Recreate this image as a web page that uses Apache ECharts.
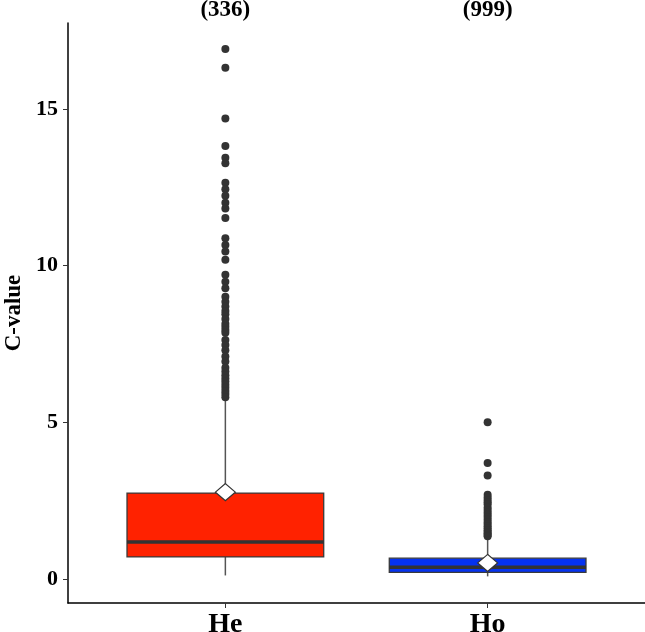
<!DOCTYPE html>
<html><head><meta charset="utf-8">
<script src="https://cdn.jsdelivr.net/npm/echarts@6/dist/echarts.min.js"></script>
<style>html,body{margin:0;padding:0;background:#fff}#c{width:645px;height:632px}</style>
</head><body><div id="c"></div>
<script>
// ---- data ----
const categories = ['He', 'Ho'];
const counts = ['(336)', '(999)'];
const catPositions = [1, 2];
// [lower whisker, Q1, median, Q3, upper whisker]
const heBox = [0.11, 0.70, 1.18, 2.74, 5.72];
const hoBox = [0.08, 0.21, 0.37, 0.66, 1.31];
const means = [2.77, 0.51];
const heOutliers = [16.92, 16.32, 14.70, 13.82, 13.45, 13.27, 12.65, 12.44, 12.23, 12.01, 11.83, 11.52,
  10.88, 10.66, 10.45, 10.19, 9.71, 9.49, 9.28, 9.01, 8.85, 8.70, 8.55, 8.45, 8.30, 8.15, 8.05, 7.95,
  7.86, 7.63, 7.47, 7.30, 7.10, 6.94, 6.74, 6.62, 6.50, 6.40, 6.30, 6.20, 6.10, 6.00, 5.90, 5.80];
const hoOutliers = [5.00, 3.70, 3.30, 2.69, 2.60, 2.52, 2.45, 2.38, 2.28, 2.20, 2.12, 2.05, 1.98, 1.90,
  1.82, 1.75, 1.68, 1.62, 1.55, 1.50, 1.45, 1.40, 1.36];
const yTicks = [0, 5, 10, 15];

// ---- styles ----
const boxColors = ['#ff2200', '#0532f0'];
const FONT = 'Liberation Serif';

const boxData = [[catPositions[0], ...heBox], [catPositions[1], ...hoBox]];
const outlierData = heOutliers.map(v => [catPositions[0], v]).concat(hoOutliers.map(v => [catPositions[1], v]));
const meanData = means.map((v, i) => [catPositions[i], v]);

const chart = echarts.init(document.getElementById('c'), null, {renderer: 'canvas'});
const axisText = {fontFamily: FONT, fontWeight: 'bold', color: '#000'};
chart.setOption({
  backgroundColor: '#fff',
  animation: false,
  grid: {left: 68, right: 0, top: 23, bottom: 29, containLabel: false, outerBoundsMode: 'none'},
  xAxis: [{
    type: 'value', min: 0.4, max: 2.6,
    axisLine: {show: true, onZero: false, lineStyle: {color: '#000', width: 1.5}},
    axisTick: {show: true, customValues: catPositions, length: 5, lineStyle: {color: '#333', width: 1}},
    axisLabel: {show: true, customValues: catPositions, margin: 8, fontSize: 28, ...axisText,
      formatter: v => categories[catPositions.indexOf(v)] || ''},
    splitLine: {show: false}
  }, {
    type: 'value', min: 0.4, max: 2.6, position: 'top',
    axisLine: {show: false}, axisTick: {show: false},
    axisLabel: {show: true, customValues: catPositions, margin: 1, fontSize: 23, ...axisText,
      formatter: v => counts[catPositions.indexOf(v)] || ''},
    splitLine: {show: false}
  }],
  yAxis: {
    type: 'value', min: -0.77, max: 17.75,
    name: 'C-value', nameLocation: 'middle', nameGap: 40,
    nameTextStyle: {fontSize: 23, ...axisText},
    axisLine: {show: true, onZero: false, lineStyle: {color: '#000', width: 1.5}},
    axisTick: {show: true, customValues: yTicks, length: 5, lineStyle: {color: '#333', width: 1}},
    axisLabel: {show: true, customValues: yTicks, margin: 10, fontSize: 22, ...axisText},
    splitLine: {show: false}
  },
  series: [{
    type: 'custom',
    data: boxData,
    z: 2,
    renderItem: function (params, api) {
      const x = api.value(0);
      const pLow = api.coord([x, api.value(1)]);
      const pQ1 = api.coord([x, api.value(2)]);
      const pMed = api.coord([x, api.value(3)]);
      const pQ3 = api.coord([x, api.value(4)]);
      const pHigh = api.coord([x, api.value(5)]);
      const half = api.size([0.75, 0])[0] / 2;
      const cx = pQ1[0];
      const whisker = {stroke: '#555', lineWidth: 1.5};
      return {
        type: 'group',
        children: [
          {type: 'line', shape: {x1: cx, y1: pLow[1], x2: cx, y2: pQ1[1]}, style: whisker},
          {type: 'line', shape: {x1: cx, y1: pQ3[1], x2: cx, y2: pHigh[1]}, style: whisker},
          {type: 'rect', shape: {x: cx - half, y: pQ3[1], width: half * 2, height: pQ1[1] - pQ3[1]},
            style: {fill: boxColors[params.dataIndex], stroke: '#3a3a3a', lineWidth: 1.3}},
          {type: 'line', shape: {x1: cx - half, y1: pMed[1], x2: cx + half, y2: pMed[1]},
            style: {stroke: '#333', lineWidth: 3.5}}
        ]
      };
    }
  }, {
    type: 'scatter',
    data: outlierData,
    symbol: 'circle',
    symbolSize: 8,
    itemStyle: {color: '#333', opacity: 1},
    z: 3
  }, {
    type: 'scatter',
    data: meanData,
    symbol: 'diamond',
    symbolSize: [20, 17],
    itemStyle: {color: '#fff', borderColor: '#333', borderWidth: 1.2, opacity: 1},
    z: 4
  }]
});
</script>
</body></html>
